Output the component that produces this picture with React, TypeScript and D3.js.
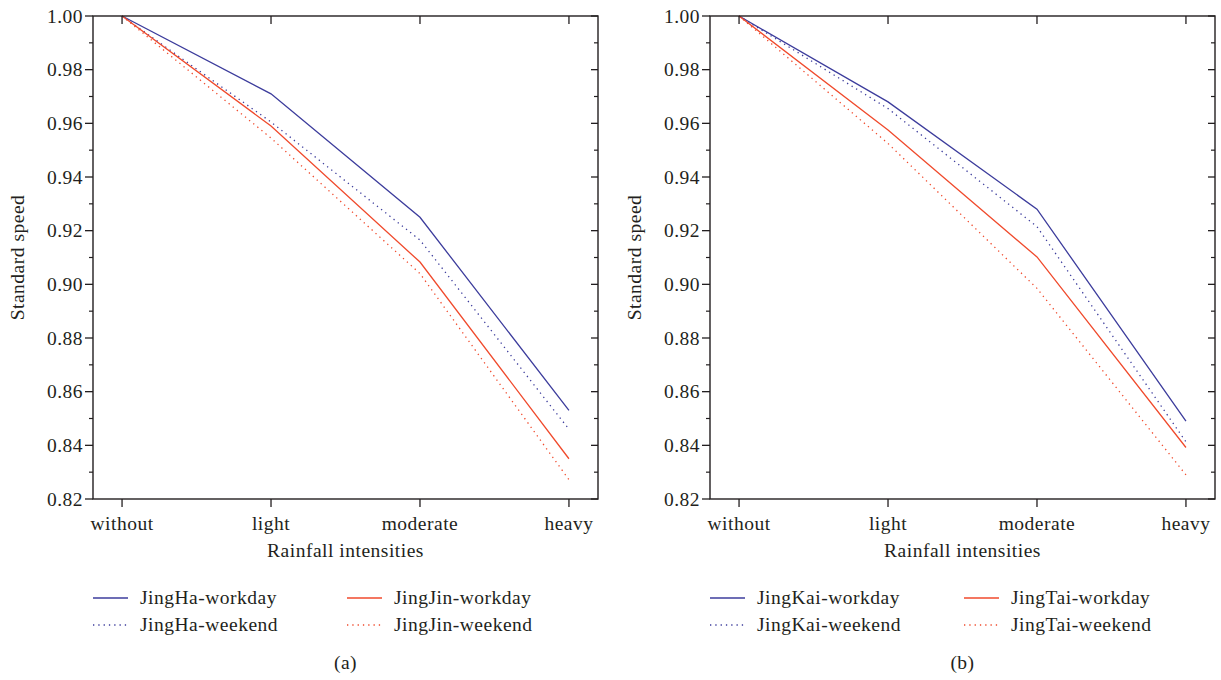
import React from 'react';
import * as d3 from 'd3';

const categories = ['without', 'light', 'moderate', 'heavy'];
const yTicks = [0.82, 0.84, 0.86, 0.88, 0.9, 0.92, 0.94, 0.96, 0.98, 1.0];

// panel (a)
const jingHaWorkday = [1.0, 0.971, 0.925, 0.853];
const jingHaWeekend = [1.0, 0.9605, 0.9165, 0.846];
const jingJinWorkday = [1.0, 0.959, 0.9083, 0.835];
const jingJinWeekend = [1.0, 0.9545, 0.904, 0.8272];

// panel (b)
const jingKaiWorkday = [1.0, 0.968, 0.928, 0.849];
const jingKaiWeekend = [1.0, 0.9655, 0.9215, 0.8413];
const jingTaiWorkday = [1.0, 0.9575, 0.9102, 0.8392];
const jingTaiWeekend = [1.0, 0.9525, 0.8985, 0.829];

const BLUE = '#3c3c9c';
const RED = '#f04a2c';
const FONT = '"Liberation Serif", "Times New Roman", serif';
const TXT = '#231f20';
const FS = 19.5;
const LS = 0.5;

type Series = { name: string; values: number[]; color: string; dotted: boolean };

const panelA: Series[] = [
  { name: 'JingHa-workday', values: jingHaWorkday, color: BLUE, dotted: false },
  { name: 'JingHa-weekend', values: jingHaWeekend, color: BLUE, dotted: true },
  { name: 'JingJin-workday', values: jingJinWorkday, color: RED, dotted: false },
  { name: 'JingJin-weekend', values: jingJinWeekend, color: RED, dotted: true },
];
const panelB: Series[] = [
  { name: 'JingKai-workday', values: jingKaiWorkday, color: BLUE, dotted: false },
  { name: 'JingKai-weekend', values: jingKaiWeekend, color: BLUE, dotted: true },
  { name: 'JingTai-workday', values: jingTaiWorkday, color: RED, dotted: false },
  { name: 'JingTai-weekend', values: jingTaiWeekend, color: RED, dotted: true },
];

const Panel = ({ series, x0, label }: { series: Series[]; x0: number; label: string }) => {
  const left = x0;
  const right = x0 + 505;
  const top = 16;
  const bottom = 499;

  const xScale = d3.scalePoint<string>().domain(categories).range([left, right]).padding(0.195);
  const yScale = d3.scaleLinear().domain([0.82, 1.0]).range([bottom, top]);
  const minor = d3.range(0.83, 1.0, 0.02);

  const line = d3
    .line<number>()
    .x((_, i) => xScale(categories[i]) as number)
    .y((d) => yScale(d));

  const midX = (left + right) / 2;
  const txt = { fontSize: FS, fontFamily: FONT, fill: TXT, letterSpacing: LS };

  return (
    <g>
      {series.map((s) => (
        <path
          key={s.name}
          d={line(s.values) || ''}
          fill="none"
          stroke={s.color}
          strokeWidth={1.3}
          strokeDasharray={s.dotted ? '1.3 4' : undefined}
        />
      ))}
      {/* frame */}
      <rect x={left} y={top} width={right - left} height={bottom - top} fill="none" stroke={TXT} strokeWidth={1.4} />
      {/* y ticks */}
      {yTicks.map((t) => (
        <g key={t}>
          <line x1={left - 8} x2={left} y1={yScale(t)} y2={yScale(t)} stroke={TXT} strokeWidth={1.3} />
          <line x1={right - 7} x2={right} y1={yScale(t)} y2={yScale(t)} stroke={TXT} strokeWidth={1.3} />
          <text x={left - 10} y={yScale(t)} dy="0.35em" textAnchor="end" {...txt}>
            {d3.format('.2f')(t)}
          </text>
        </g>
      ))}
      {minor.map((t) => (
        <g key={t}>
          <line x1={left - 4} x2={left} y1={yScale(t)} y2={yScale(t)} stroke={TXT} strokeWidth={1.2} />
          <line x1={right - 4} x2={right} y1={yScale(t)} y2={yScale(t)} stroke={TXT} strokeWidth={1.2} />
        </g>
      ))}
      {/* x ticks */}
      {categories.map((c) => (
        <g key={c}>
          <line x1={xScale(c)} x2={xScale(c)} y1={bottom} y2={bottom + 8} stroke={TXT} strokeWidth={1.3} />
          <line x1={xScale(c)} x2={xScale(c)} y1={top} y2={top + 8} stroke={TXT} strokeWidth={1.3} />
          <text x={xScale(c)} y={530} textAnchor="middle" {...txt}>
            {c}
          </text>
        </g>
      ))}
      <text x={midX} y={557} textAnchor="middle" {...txt}>
        Rainfall intensities
      </text>
      <text
        transform={`translate(${left - 69}, ${(top + bottom) / 2}) rotate(-90)`}
        textAnchor="middle"
        {...txt}
      >
        Standard speed
      </text>
      {/* legend */}
      {series.map((s, i) => {
        const col = Math.floor(i / 2);
        const row = i % 2;
        const lx = left + col * 254;
        const ly = 598 + row * 27;
        return (
          <g key={s.name}>
            <line
              x1={lx}
              x2={lx + 35}
              y1={ly}
              y2={ly}
              stroke={s.color}
              strokeWidth={1.3}
              strokeDasharray={s.dotted ? '1.3 4' : undefined}
            />
            <text x={lx + 47} y={ly} dy="0.33em" {...txt}>
              {s.name}
            </text>
          </g>
        );
      })}
      <text x={midX} y={669} textAnchor="middle" {...txt}>
        {label}
      </text>
    </g>
  );
};

export default function App() {
  return (
    <svg width={1221} height={680} style={{ position: 'absolute', left: 0, top: 0, background: '#fff' }}>
      <rect width={1221} height={680} fill="#fff" />
      <Panel series={panelA} x0={93} label="(a)" />
      <Panel series={panelB} x0={710} label="(b)" />
    </svg>
  );
}
